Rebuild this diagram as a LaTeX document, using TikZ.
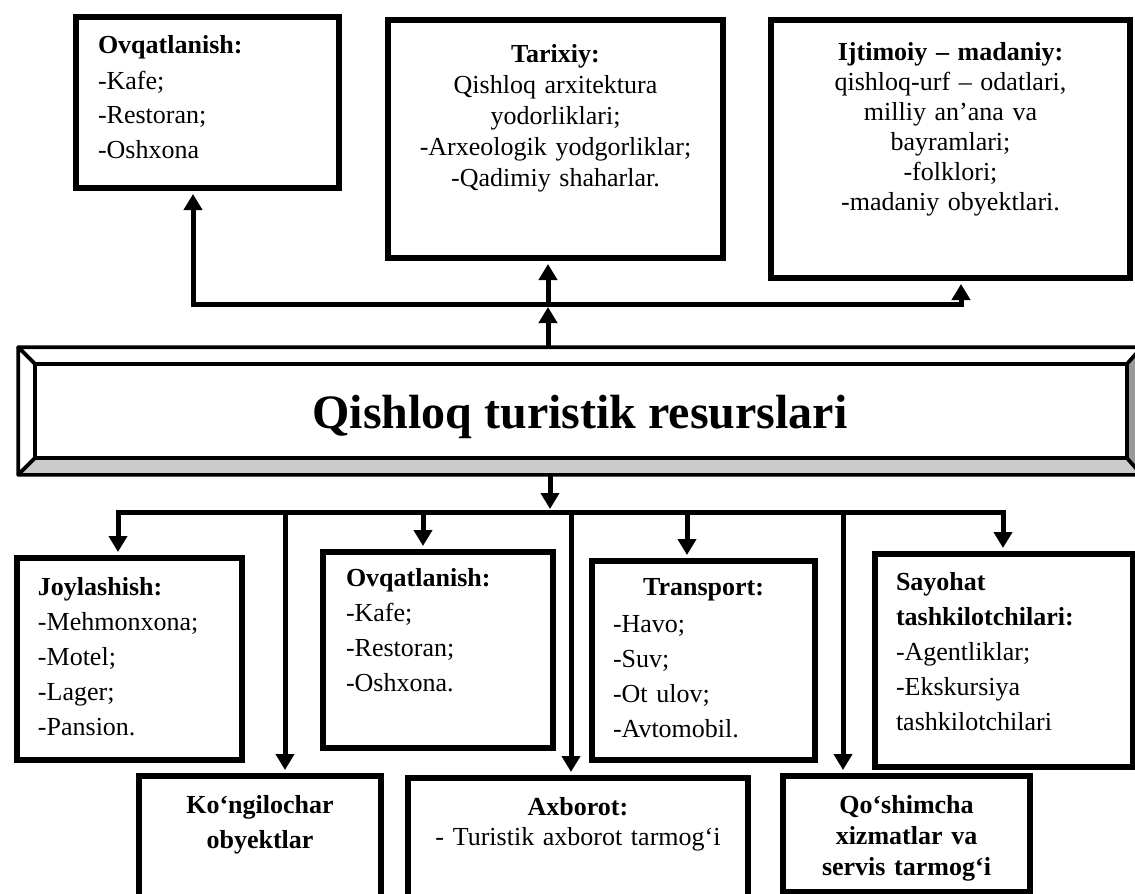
\documentclass[tikz,border=0pt]{standalone}
\usepackage{fontspec}
\setmainfont{Liberation Serif}
\usetikzlibrary{arrows.meta}
\definecolor{bevelgray}{HTML}{CCCCCC}
\definecolor{beveldark}{HTML}{999999}
\tikzstyle{listbox} = [
    rectangle,
    draw=black,
    line width=3pt,
    anchor=north west,
    inner ysep=0pt,
    align=left,
    font=\fontsize{13}{17.5}\selectfont
]
\tikzstyle{centerbox} = [
    rectangle,
    draw=black,
    line width=3pt,
    anchor=north west,
    inner ysep=0pt,
    inner xsep=5pt,
    align=center,
    font=\fontsize{13}{15.5}\selectfont
]
\tikzstyle{titlebox} = [
    rectangle,
    draw=black,
    line width=1.8pt,
    inner sep=0pt,
    minimum width=560pt,
    minimum height=62pt,
    text height=17pt,
    text depth=0pt,
    font=\fontsize{24}{28}\selectfont\bfseries
]
\tikzstyle{bevel} = [line width=1.8pt, line join=round]
\tikzstyle{busline} = [line width=2.5pt, line cap=rect]
\tikzstyle{arrow} = [line width=2.5pt, -{Triangle[width=9pt,length=8pt]}, shorten >=1.5pt]

\begin{document}
\begin{tikzpicture}[x=0.5pt, y=-0.5pt]
\path [use as bounding box, fill=white] (0,0) rectangle (1135,894);

% top row
\node (ovqTop) [listbox, text width=109.5pt, inner xsep=11pt,
    text height=18.5pt, text depth=67pt] at (73,14)
{\textbf{Ovqatlanish:}\\ -Kafe;\\ -Restoran;\\ -Oshxona};

\node (tarix) [centerbox, text width=157.5pt,
    text height=21pt, text depth=98pt] at (385,17)
{\textbf{Tarixiy:}\\ Qishloq arxitektura\\ yodorliklari;\\ -Arxeologik yodgorliklar;\\ -Qadimiy shaharlar.};

\node (ijtim) [centerbox, text width=169.5pt, font=\fontsize{13}{15}\selectfont,
    text height=20pt, text depth=109pt] at (768,17)
{\textbf{Ijtimoiy – madaniy:}\\ qishloq-urf – odatlari,\\ milliy an’ana va\\ bayramlari;\\ -folklori;\\ -madaniy obyektlari.};

% main box
\node (main) [titlebox] at (580,411) {Qishloq turistik resurslari};
\coordinate (inNW) at (35,364);
\coordinate (inNE) at (1127,364);
\coordinate (inSW) at (35,458);
\coordinate (inSE) at (1127,458);
\filldraw [bevel, fill=white] (main.north west) -- (main.north east) -- (inNE) -- (inNW) -- cycle;
\filldraw [bevel, fill=white] (main.north west) -- (inNW) -- (inSW) -- (main.south west) -- cycle;
\filldraw [bevel, fill=bevelgray] (main.south west) -- (inSW) -- (inSE) -- (main.south east) -- cycle;
\filldraw [bevel, fill=beveldark] (main.north east) -- (inNE) -- (inSE) -- (main.south east) -- cycle;

% second row
\node (joy) [listbox, text width=91.5pt, inner xsep=10.5pt,
    text height=18.5pt, text depth=82.5pt] at (14,555)
{\textbf{Joylashish:}\\ -Mehmonxona;\\ -Motel;\\ -Lager;\\ -Pansion.};

\node (ovqBot) [listbox, text width=92pt, inner xsep=11.5pt,
    text height=17pt, text depth=81pt] at (320,549)
{\textbf{Ovqatlanish:}\\ -Kafe;\\ -Restoran;\\ -Oshxona.};

\node (trans) [listbox, text width=90.5pt, inner xsep=10.5pt,
    text height=17pt, text depth=82.5pt] at (589,558)
{\makebox[\linewidth]{\textbf{Transport:}}\\[1pt] -Havo;\\ -Suv;\\ -Ot ulov;\\ -Avtomobil.};

\node (sayo) [listbox, text width=108pt, inner xsep=10.5pt,
    text height=18pt, text depth=88.5pt] at (872,551)
{\textbf{Sayohat}\\ \textbf{tashkilotchilari:}\\ -Agentliklar;\\ -Ekskursiya\\ tashkilotchilari};

% third row
\node (kong) [centerbox, text width=111pt, font=\fontsize{13}{17.5}\selectfont\bfseries,
    text height=18.5pt, text depth=50pt] at (136,773)
{Ko‘ngilochar\\ obyektlar};

\node (axb) [centerbox, text width=160pt, font=\fontsize{13}{15}\selectfont,
    text height=18.5pt, text depth=67.5pt] at (405,775)
{\textbf{Axborot:}\\ - Turistik axborot tarmog‘i};

\node (qosh) [centerbox, text width=113.5pt, font=\fontsize{13}{15.5}\selectfont\bfseries,
    text height=18.5pt, text depth=39.5pt] at (780,773)
{Qo‘shimcha\\ xizmatlar va\\ servis tarmog‘i};

% upper connectors
\coordinate (tl) at (193,304);
\coordinate (tm) at (548,304);
\coordinate (tr) at (961,304);
\draw [busline] (tl) -- (tr);
\draw [arrow] (tl) -- (ovqTop.south -| tl);
\draw [arrow] (tm) -- (tarix.south -| tm);
\draw [arrow] (tr) -- (ijtim.south -| tr);
\draw [arrow] (main.north -| tm) -- (tm);

% lower connectors
\coordinate (dMain) at (550,512);
\coordinate (dJoy) at (118,512);
\coordinate (dKong) at (285,512);
\coordinate (dOvq) at (423,512);
\coordinate (dAxb) at (571,512);
\coordinate (dTrans) at (687,512);
\coordinate (dQosh) at (843,512);
\coordinate (dSayo) at (1003,512);
\draw [busline] (dJoy) -- (dSayo);
\draw [arrow] (main.south -| dMain) -- (dMain);
\draw [arrow] (dJoy) -- (joy.north -| dJoy);
\draw [arrow] (dKong) -- (kong.north -| dKong);
\draw [arrow] (dOvq) -- (ovqBot.north -| dOvq);
\draw [arrow] (dAxb) -- (axb.north -| dAxb);
\draw [arrow] (dTrans) -- (trans.north -| dTrans);
\draw [arrow] (dQosh) -- (qosh.north -| dQosh);
\draw [arrow] (dSayo) -- (sayo.north -| dSayo);

\end{tikzpicture}
\end{document}
